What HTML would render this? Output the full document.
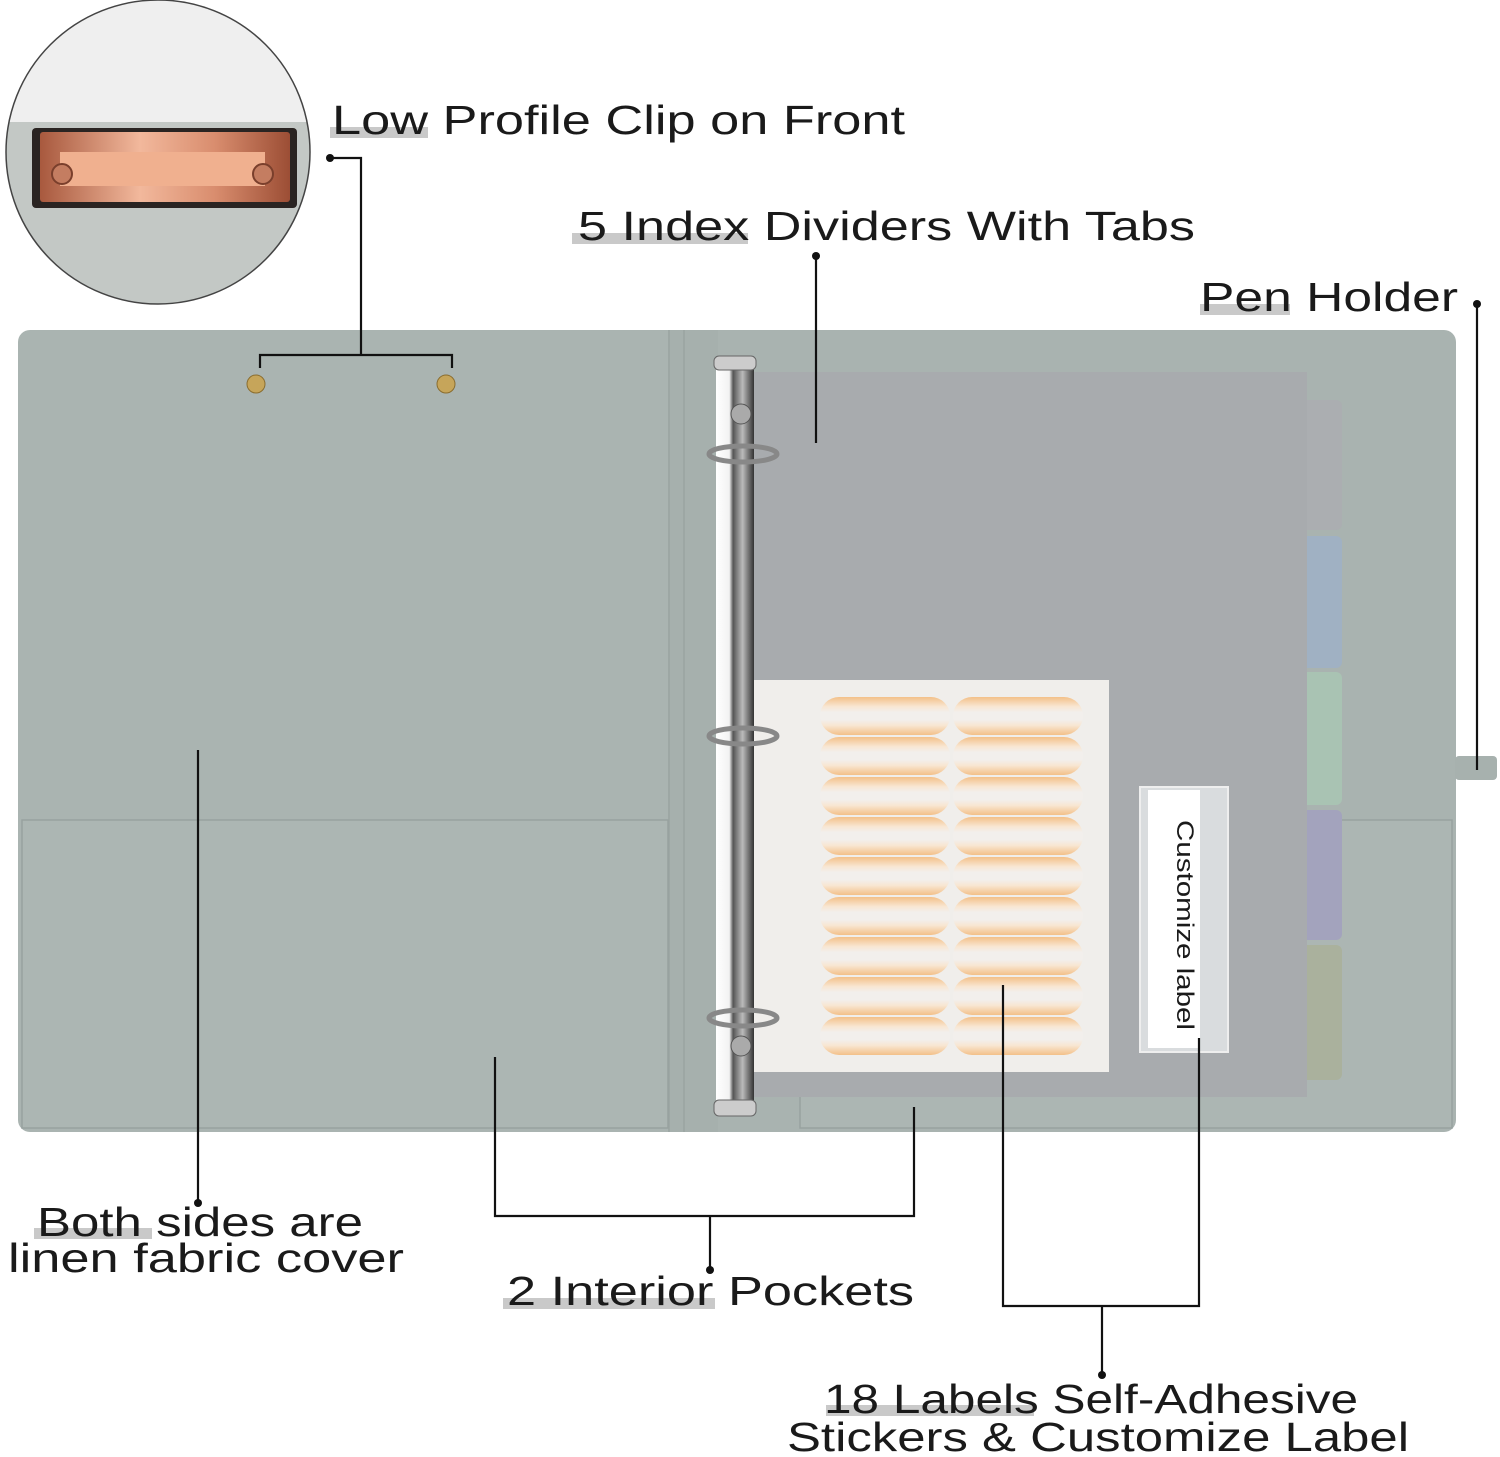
<!DOCTYPE html>
<html><head><meta charset="utf-8"><style>
html,body{margin:0;padding:0;background:#fff}
svg{display:block}
text{font-family:"Liberation Sans",sans-serif;fill:#1a1a1a}
</style></head><body>
<svg width="1500" height="1457" viewBox="0 0 1500 1457" xmlns="http://www.w3.org/2000/svg">
<defs>
<linearGradient id="pillg" x1="0" y1="0" x2="0" y2="1">
<stop offset="0" stop-color="#f3c088"/><stop offset="0.25" stop-color="#f8e6d2"/><stop offset="0.4" stop-color="#f2efec"/><stop offset="0.6" stop-color="#f2efec"/><stop offset="0.75" stop-color="#f8e6d2"/><stop offset="1" stop-color="#f3c088"/>
</linearGradient>
<linearGradient id="clipg" x1="0" y1="0" x2="1" y2="0">
<stop offset="0" stop-color="#a8593e"/><stop offset="0.4" stop-color="#f2b89c"/><stop offset="0.7" stop-color="#d98d6e"/><stop offset="1" stop-color="#9c4e35"/>
</linearGradient>
<linearGradient id="ring" x1="0" y1="0" x2="1" y2="0">
<stop offset="0" stop-color="#fff"/><stop offset="0.35" stop-color="#f2f2f2"/><stop offset="0.45" stop-color="#555"/><stop offset="0.7" stop-color="#bbb"/><stop offset="1" stop-color="#333"/>
</linearGradient>
<clipPath id="circ"><circle cx="158" cy="152" r="152"/></clipPath>
</defs>

<g clip-path="url(#circ)">
<rect x="0" y="0" width="320" height="320" fill="#efefef"/>
<rect x="0" y="122" width="320" height="200" fill="#c3c8c5"/>
<rect x="32" y="128" width="265" height="80" rx="4" fill="#2a2422"/>
<rect x="40" y="132" width="250" height="70" rx="3" fill="url(#clipg)"/>
<rect x="60" y="152" width="205" height="34" fill="#f0b08f"/>
<circle cx="62" cy="174" r="10" fill="#c47d61" stroke="#7a3f2c" stroke-width="2"/>
<circle cx="263" cy="174" r="10" fill="#c47d61" stroke="#7a3f2c" stroke-width="2"/>
</g>
<circle cx="158" cy="152" r="152" fill="none" stroke="#444" stroke-width="1.5"/>

<rect x="18" y="330" width="670" height="802" rx="12" fill="#aab4b1"/>
<rect x="680" y="330" width="776" height="802" rx="12" fill="#a9b3b0"/>
<rect x="668" y="330" width="50" height="802" fill="#a6b0ad"/>
<line x1="669" y1="330" x2="669" y2="1132" stroke="#9aa4a1" stroke-width="1.5"/>
<line x1="684" y1="330" x2="684" y2="1132" stroke="#9aa4a1" stroke-width="1.5"/>
<rect x="22" y="820" width="646" height="308" fill="#acb6b3" stroke="#98a29f" stroke-width="1.5"/>
<rect x="800" y="820" width="652" height="308" fill="#acb6b3" stroke="#98a29f" stroke-width="1.5"/>
<circle cx="256" cy="384" r="9" fill="#c6a55a" stroke="#8a6d2f"/>
<circle cx="446" cy="384" r="9" fill="#c6a55a" stroke="#8a6d2f"/>
<rect x="1455" y="756" width="42" height="24" rx="4" fill="#a7b1ae"/>

<rect x="1290" y="400" width="52" height="130" rx="6" fill="#abaeb1"/>
<rect x="1290" y="536" width="52" height="132" rx="6" fill="#a0b1c3"/>
<rect x="1290" y="672" width="52" height="133" rx="6" fill="#a9c3b3"/>
<rect x="1290" y="810" width="52" height="130" rx="6" fill="#a3a3bd"/>
<rect x="1290" y="945" width="52" height="135" rx="6" fill="#aab19d"/>
<rect x="750" y="372" width="557" height="725" fill="#a8abae"/>
<rect x="748" y="680" width="361" height="392" fill="#f0eeeb"/>
<g fill="url(#pillg)">
<rect x="820" y="697" width="130" height="38" rx="19"/><rect x="953" y="697" width="130" height="38" rx="19"/>
<rect x="820" y="737" width="130" height="38" rx="19"/><rect x="953" y="737" width="130" height="38" rx="19"/>
<rect x="820" y="777" width="130" height="38" rx="19"/><rect x="953" y="777" width="130" height="38" rx="19"/>
<rect x="820" y="817" width="130" height="38" rx="19"/><rect x="953" y="817" width="130" height="38" rx="19"/>
<rect x="820" y="857" width="130" height="38" rx="19"/><rect x="953" y="857" width="130" height="38" rx="19"/>
<rect x="820" y="897" width="130" height="38" rx="19"/><rect x="953" y="897" width="130" height="38" rx="19"/>
<rect x="820" y="937" width="130" height="38" rx="19"/><rect x="953" y="937" width="130" height="38" rx="19"/>
<rect x="820" y="977" width="130" height="38" rx="19"/><rect x="953" y="977" width="130" height="38" rx="19"/>
<rect x="820" y="1017" width="130" height="38" rx="19"/><rect x="953" y="1017" width="130" height="38" rx="19"/>
</g>
<rect x="1140" y="787" width="88" height="265" fill="#d9dcde" stroke="#eee" stroke-width="2"/>
<rect x="1148" y="790" width="52" height="258" fill="#fff"/>
<text transform="translate(1177,820) rotate(90)" font-size="24" textLength="210" lengthAdjust="spacingAndGlyphs">Customize label</text>

<rect x="716" y="362" width="38" height="752" fill="url(#ring)"/>
<rect x="714" y="356" width="42" height="14" rx="5" fill="#ccc" stroke="#666"/>
<rect x="714" y="1100" width="42" height="16" rx="5" fill="#ccc" stroke="#666"/>
<ellipse cx="743" cy="454" rx="34" ry="8" fill="none" stroke="#888" stroke-width="5"/>
<ellipse cx="743" cy="736" rx="34" ry="8" fill="none" stroke="#888" stroke-width="5"/>
<ellipse cx="743" cy="1018" rx="34" ry="8" fill="none" stroke="#888" stroke-width="5"/>
<circle cx="741" cy="414" r="10" fill="#aaa" stroke="#555"/>
<circle cx="741" cy="1046" r="10" fill="#aaa" stroke="#555"/>

<g stroke="#111" stroke-width="2.2" fill="none">
<path d="M330 158 H361 V355 M260 368 V355 H452 V368"/>
<path d="M816 256 V443"/>
<path d="M1477 304 V770"/>
<path d="M198 1203 V750"/>
<path d="M495 1057 V1216 H914 V1107 M710 1216 V1270"/>
<path d="M1003 985 V1306 H1199 V1038 M1102 1306 V1375"/>
</g>
<g fill="#111">
<circle cx="330" cy="158" r="4"/><circle cx="816" cy="256" r="4"/><circle cx="1477" cy="304" r="4"/>
<circle cx="198" cy="1203" r="4"/><circle cx="710" cy="1270" r="4"/><circle cx="1102" cy="1375" r="4"/>
</g>

<g fill="#c9c9c9">
<rect x="330" y="127" width="98" height="11"/>
<rect x="572" y="233" width="176" height="11"/>
<rect x="1200" y="304" width="90" height="11"/>
<rect x="34" y="1228" width="118" height="11"/>
<rect x="503" y="1298" width="212" height="11"/>
<rect x="826" y="1405" width="208" height="11"/>
</g>

<g font-size="41">
<text x="332" y="134" textLength="573" lengthAdjust="spacingAndGlyphs">Low Profile Clip on Front</text>
<text x="578" y="240" textLength="617" lengthAdjust="spacingAndGlyphs">5 Index Dividers With Tabs</text>
<text x="1200" y="311" textLength="258" lengthAdjust="spacingAndGlyphs">Pen Holder</text>
<text x="37" y="1236" textLength="326" lengthAdjust="spacingAndGlyphs">Both sides are</text>
<text x="8" y="1272" textLength="396" lengthAdjust="spacingAndGlyphs">linen fabric cover</text>
<text x="507" y="1305" textLength="407" lengthAdjust="spacingAndGlyphs">2 Interior Pockets</text>
<text x="824" y="1413" textLength="534" lengthAdjust="spacingAndGlyphs">18 Labels Self-Adhesive</text>
<text x="787" y="1451" textLength="622" lengthAdjust="spacingAndGlyphs">Stickers &amp; Customize Label</text>
</g>
</svg>
</body></html>
